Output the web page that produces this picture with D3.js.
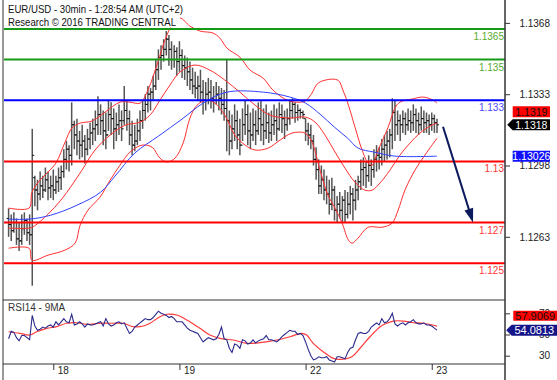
<!DOCTYPE html>
<html><head><meta charset="utf-8">
<script src="https://cdn.jsdelivr.net/npm/d3@7"></script>
<style>html,body{margin:0;padding:0;background:#fff}svg{display:block}text{font-family:"Liberation Sans",Arial,sans-serif}</style>
</head><body><svg id="c" width="557" height="380"></svg>
<script>
// ---------------- DATA ----------------
const dayLabels = ["18","19","22","23"];
const dayIdx = [17,65,113,161];
const opens = [1.1272,1.1269,1.1266,1.1270,1.1262,1.1261,1.1267,1.1271,1.1265,1.1264,
1.1292,1.1286,1.1284,1.1288,1.1286,1.1291,1.1287,1.1288,1.1286,1.1290,
1.1292,1.1295,1.1301,1.1306,1.1303,1.1318,1.1313,1.1310,1.1308,1.1310,
1.1306,1.1311,1.1314,1.1316,1.1318,1.1323,1.1320,1.1315,1.1313,1.1323,
1.1321,1.1316,1.1318,1.1320,1.1320,1.1325,1.1321,1.1313,1.1308,1.1310,
1.1315,1.1320,1.1325,1.1328,1.1333,1.1334,1.1337,1.1345,1.1351,1.1352,
1.1355,1.1360,1.1355,1.1350,1.1354,1.1349,1.1352,1.1347,1.1346,1.1344,
1.1340,1.1337,1.1336,1.1337,1.1334,1.1330,1.1333,1.1334,1.1331,1.1330,
1.1333,1.1331,1.1328,1.1326,1.1320,1.1310,1.1316,1.1320,1.1313,1.1308,
1.1318,1.1323,1.1315,1.1313,1.1318,1.1315,1.1321,1.1318,1.1315,1.1319,
1.1314,1.1318,1.1320,1.1316,1.1323,1.1321,1.1318,1.1321,1.1325,1.1328,
1.1324,1.1325,1.1324,1.1321,1.1315,1.1313,1.1310,1.1301,1.1296,1.1288,
1.1291,1.1286,1.1284,1.1279,1.1286,1.1276,1.1279,1.1276,1.1281,1.1274,
1.1279,1.1284,1.1281,1.1286,1.1290,1.1296,1.1297,1.1293,1.1298,1.1296,
1.1301,1.1303,1.1302,1.1306,1.1308,1.1310,1.1313,1.1324,1.1318,1.1320,
1.1318,1.1321,1.1318,1.1320,1.1319,1.1323,1.1320,1.1318,1.1321,1.1319,
1.1320,1.1318,1.1321,1.1319];
const highs = [1.1277,1.1274,1.1275,1.1272,1.1270,1.1274,1.1275,1.1272,1.1274,1.1316,
1.1293,1.1291,1.1295,1.1293,1.1297,1.1295,1.1293,1.1296,1.1293,1.1297,
1.1298,1.1306,1.1310,1.1308,1.1329,1.1320,1.1321,1.1315,1.1318,1.1313,
1.1316,1.1319,1.1321,1.1325,1.1332,1.1328,1.1325,1.1324,1.1330,1.1329,
1.1326,1.1324,1.1328,1.1325,1.1337,1.1330,1.1325,1.1320,1.1318,1.1321,
1.1325,1.1330,1.1333,1.1337,1.1336,1.1342,1.1350,1.1355,1.1357,1.1360,
1.1364,1.1362,1.1359,1.1357,1.1356,1.1359,1.1355,1.1352,1.1351,1.1349,
1.1346,1.1344,1.1342,1.1345,1.1340,1.1339,1.1341,1.1340,1.1337,1.1339,
1.1337,1.1336,1.1335,1.1350,1.1325,1.1323,1.1328,1.1325,1.1321,1.1326,
1.1330,1.1328,1.1324,1.1326,1.1325,1.1329,1.1330,1.1326,1.1328,1.1324,
1.1325,1.1328,1.1326,1.1329,1.1328,1.1325,1.1326,1.1330,1.1331,1.1329,
1.1328,1.1326,1.1325,1.1321,1.1319,1.1318,1.1313,1.1307,1.1301,1.1298,
1.1296,1.1293,1.1291,1.1292,1.1288,1.1283,1.1285,1.1283,1.1286,1.1285,
1.1288,1.1287,1.1291,1.1293,1.1301,1.1302,1.1300,1.1303,1.1301,1.1306,
1.1308,1.1307,1.1311,1.1313,1.1315,1.1316,1.1331,1.1330,1.1325,1.1323,
1.1325,1.1324,1.1326,1.1325,1.1328,1.1326,1.1324,1.1327,1.1325,1.1324,
1.1323,1.1324,1.1323,1.1321];
const lows = [1.1263,1.1261,1.1265,1.1259,1.1256,1.1259,1.1264,1.1261,1.1259,1.1239,
1.1278,1.1276,1.1281,1.1282,1.1285,1.1281,1.1282,1.1281,1.1284,1.1285,
1.1286,1.1292,1.1296,1.1295,1.1298,1.1306,1.1303,1.1301,1.1302,1.1299,
1.1303,1.1306,1.1308,1.1310,1.1313,1.1313,1.1308,1.1306,1.1315,1.1313,
1.1306,1.1310,1.1313,1.1310,1.1318,1.1315,1.1308,1.1303,1.1305,1.1308,
1.1310,1.1316,1.1320,1.1324,1.1325,1.1330,1.1335,1.1340,1.1345,1.1349,
1.1352,1.1347,1.1345,1.1346,1.1342,1.1344,1.1341,1.1340,1.1337,1.1335,
1.1333,1.1331,1.1330,1.1329,1.1323,1.1325,1.1328,1.1326,1.1324,1.1328,
1.1325,1.1323,1.1320,1.1305,1.1303,1.1306,1.1310,1.1306,1.1303,1.1310,
1.1313,1.1308,1.1306,1.1310,1.1308,1.1313,1.1310,1.1308,1.1311,1.1309,
1.1310,1.1313,1.1310,1.1315,1.1314,1.1311,1.1315,1.1318,1.1321,1.1319,
1.1320,1.1321,1.1321,1.1310,1.1308,1.1306,1.1298,1.1291,1.1284,1.1284,
1.1281,1.1279,1.1274,1.1276,1.1271,1.1270,1.1272,1.1270,1.1270,1.1272,
1.1274,1.1271,1.1276,1.1281,1.1286,1.1288,1.1287,1.1290,1.1288,1.1292,
1.1295,1.1296,1.1298,1.1300,1.1301,1.1302,1.1306,1.1310,1.1313,1.1310,
1.1314,1.1313,1.1315,1.1314,1.1315,1.1314,1.1313,1.1315,1.1314,1.1314,
1.1313,1.1315,1.1314,1.1314];
const closes = [1.1269,1.1266,1.1270,1.1262,1.1261,1.1267,1.1271,1.1265,1.1264,1.1303,
1.1286,1.1284,1.1288,1.1286,1.1291,1.1287,1.1288,1.1286,1.1290,1.1292,
1.1295,1.1301,1.1306,1.1303,1.1318,1.1313,1.1310,1.1308,1.1310,1.1306,
1.1311,1.1314,1.1316,1.1318,1.1323,1.1320,1.1315,1.1313,1.1323,1.1321,
1.1316,1.1318,1.1320,1.1316,1.1325,1.1321,1.1313,1.1308,1.1310,1.1315,
1.1320,1.1325,1.1328,1.1333,1.1334,1.1337,1.1345,1.1351,1.1352,1.1355,
1.1360,1.1355,1.1350,1.1354,1.1349,1.1352,1.1347,1.1346,1.1344,1.1340,
1.1337,1.1336,1.1337,1.1334,1.1330,1.1333,1.1334,1.1331,1.1330,1.1333,
1.1331,1.1328,1.1326,1.1320,1.1310,1.1316,1.1320,1.1313,1.1308,1.1318,
1.1323,1.1315,1.1313,1.1318,1.1315,1.1321,1.1318,1.1315,1.1319,1.1314,
1.1318,1.1320,1.1316,1.1323,1.1321,1.1318,1.1321,1.1325,1.1328,1.1324,
1.1325,1.1324,1.1323,1.1315,1.1313,1.1310,1.1301,1.1296,1.1288,1.1291,
1.1286,1.1284,1.1279,1.1286,1.1276,1.1279,1.1276,1.1281,1.1274,1.1279,
1.1284,1.1281,1.1286,1.1290,1.1296,1.1297,1.1293,1.1298,1.1296,1.1301,
1.1303,1.1302,1.1306,1.1308,1.1310,1.1313,1.1324,1.1318,1.1320,1.1318,
1.1321,1.1318,1.1320,1.1319,1.1323,1.1320,1.1318,1.1321,1.1319,1.1320,
1.1318,1.1321,1.1319,1.1318];

// Bollinger bands (20) and moving average, read at sample bar positions
const upperIdx = [0,7.8,8.9,11.9,15,18,21.5,24.1,27.2,31.7,36.7,42.4,46.2,50,53,56.8,59.5,62.2,65.2,69,72.8,77.8,80.4,83.1,88,91.9,96.8,100.6,105.9,109.7,112.8,115.4,117.4,120.4,125.3,127.2,129.3,131.8,134.5,136.8,138.3,140.6,144.4,147,148.9,153.5,157.7,161.5,163];
const upperVal = [1.12771,1.12771,1.12849,1.12908,1.12948,1.12992,1.13095,1.13164,1.13188,1.13198,1.13242,1.13291,1.13291,1.13286,1.13350,1.13488,1.13596,1.13669,1.13704,1.13664,1.13640,1.13630,1.13605,1.13556,1.13512,1.13448,1.13409,1.13350,1.13301,1.13291,1.13296,1.13335,1.13380,1.13399,1.13399,1.13350,1.13276,1.13168,1.13056,1.12992,1.12982,1.13056,1.13168,1.13262,1.13291,1.13306,1.13316,1.13301,1.13286];
const midIdx = [0,8.1,9.7,15,19.9,24.1,27.9,32.9,38.6,44.3,50,53.8,57.6,61.4,65.2,70.9,76.6,82.3,88,93.8,99.5,107.1,112.8,116.6,120.4,124.2,128,131.8,135.6,138.3,141.3,145.1,148.9,152.7,156.5,160.3,163];
const midVal = [1.12673,1.12673,1.12682,1.12741,1.12810,1.12884,1.12957,1.13056,1.13129,1.13178,1.13193,1.13227,1.13301,1.13375,1.13439,1.13473,1.13448,1.13399,1.13340,1.13276,1.13227,1.13213,1.13218,1.13193,1.13129,1.13046,1.12967,1.12898,1.12859,1.12859,1.12894,1.12957,1.13031,1.13090,1.13139,1.13173,1.13188];
const lowerIdx = [0,7.8,8.9,15,21.5,25.3,27.2,30.2,34.8,38.6,42.4,46.2,50.8,54.6,57.6,60.3,63.3,66.4,69,71.7,75.5,78.5,82.3,86.1,90,93.8,98.7,103.3,107.8,112.8,115.4,118.5,121.5,124.2,126.9,129.3,130.7,132.9,136.8,142.1,145.9,148.2,150.8,154.6,158.4,163];
const lowerVal = [1.12574,1.12574,1.12515,1.12540,1.12565,1.12599,1.12687,1.12761,1.12825,1.12908,1.12982,1.13046,1.13080,1.13070,1.13016,1.12997,1.13016,1.13090,1.13213,1.13276,1.13301,1.13286,1.13227,1.13129,1.13080,1.13056,1.13065,1.13105,1.13139,1.13139,1.13095,1.12957,1.12835,1.12771,1.12697,1.12614,1.12599,1.12623,1.12677,1.12677,1.12697,1.12761,1.12859,1.12957,1.13031,1.13114];
const smaIdx = [0,8,16,26,35,40.5,48,57,66,74,83,97,107,113,118.5,124,129,133,139,147,163];
const smaVal = [1.12717,1.12717,1.12736,1.12785,1.12849,1.12928,1.13041,1.13124,1.13208,1.13286,1.13340,1.13340,1.13316,1.13286,1.13232,1.13168,1.13114,1.13065,1.13046,1.13026,1.13026];

const levels = [1.1365,1.135,1.133,1.13,1.127,1.125];
const levelLabels = ["1.1365","1.135","1.133","1.13","1.127","1.125"];
const levelKind = ["resistance","resistance","pivot","support","support","support"];
const priceTicks = [1.1368,1.1333,1.1298,1.1263];

const rsi = [46,53,52,47,44,49,49,47,45,68,58,54,55,57,56,58,59,57,62,59,
62,65,62,61,69,59,60,62,60,57,60,59,59,60,61,62,58,65,60,58,
59,61,62,60,61,56,51,53,57,59,61,63,65,64,64,66,69,72,70,69,
68,66,67,65,62,62,62,59,56,54,53,52,51,47,43,45,47,46,45,46,
50,57,46,45,37,33,41,40,37,45,44,41,42,45,42,44,45,46,49,45,
45,44,43,45,48,50,52,54,53,53,50,51,49,43,36,30,26,27,29,28,
28,29,26,25,24,29,29,28,27,33,37,38,45,51,52,51,51,53,57,59,
61,59,65,61,62,65,70,60,58,60,61,59,61,62,64,61,60,60,61,59,
59,58,56,54.08];
const rsiMaIdx = [0,4.3,8.1,10.7,14.5,18.3,22.1,25.9,29.7,34.8,39.8,43.6,47.5,51.3,53.8,57.6,60.2,64,67.8,72.8,76.6,80.4,85.5,90.6,95.7,102,107.1,111.5,113.4,115.9,119.7,123.6,126.1,130.6,133.7,137.5,141.4,143.9,146.4,150.2,154,157.8,163];
const rsiMaVal = [52.6,51.1,49.5,52.6,55.8,57.4,60.6,61.1,59.6,60.6,60.6,60.6,57.4,58,60.6,66.8,69.1,68.4,63.7,55.8,49.5,46.4,44.8,41.7,42.3,44.8,47.9,51.1,49.5,41.7,33.8,27.5,26.6,29.1,37,47.9,57.4,60.6,62.7,62.7,61.1,60.6,57.9];
const rsiTicks = [70,50,30];

const lastClose = 1.1318, lastMid = 1.1319, lastSma = 1.13026;
const lastRsi = 54.0813, lastRsiMa = 57.9069;
const arrowFrom = [165.3, 1.1317], arrowTo = [176.7, 1.1270];

const titleLines = ["EUR/USD - 30min - 1:28:54 AM (UTC+2)", "Research \u00a9 2016 TRADING CENTRAL"];
const rsiTitle = "RSI14 - 9MA";

// ---------------- STYLE ----------------
const levelColor = {resistance:"#169a16", pivot:"#0000ff", support:"#ff0000"};
const levelText = {resistance:"#5aab2e", pivot:"#4a4aff", support:"#ff3535"};
const FONT = '"Liberation Sans",Arial,sans-serif';

// ---------------- CHART ----------------
const svg = d3.select("#c");
const x = d3.scaleLinear().domain([0,163]).range([8.6,437]);
const y = d3.scaleLinear().domain([1.1365,1.125]).range([29,263.3]);
const yr = d3.scaleLinear().domain([70,30]).range([313.3,355.7]);

const defs = svg.append("defs");
defs.append("clipPath").attr("id","cm").append("rect").attr("x",4).attr("y",0).attr("width",501).attr("height",299);
defs.append("clipPath").attr("id","cr").append("rect").attr("x",4).attr("y",301).attr("width",501).attr("height",63);

const main = svg.append("g").attr("clip-path","url(#cm)");
const n = closes.length;
const idx = d3.range(n);

// OHLC bars
const bg = main.append("g");
bg.selectAll("line.hl").data(idx).join("line").attr("class","hl")
  .attr("x1",i=>x(i)).attr("x2",i=>x(i)).attr("y1",i=>y(highs[i])).attr("y2",i=>y(lows[i]))
  .attr("stroke","#555").attr("stroke-width",1.5);
bg.selectAll("line.op").data(idx).join("line").attr("class","op")
  .attr("x1",i=>x(i)-2).attr("x2",i=>x(i)).attr("y1",i=>y(opens[i])).attr("y2",i=>y(opens[i]))
  .attr("stroke","#111").attr("stroke-width",1);
bg.selectAll("line.cl").data(idx).join("line").attr("class","cl")
  .attr("x1",i=>x(i)).attr("x2",i=>x(i)+2).attr("y1",i=>y(closes[i])).attr("y2",i=>y(closes[i]))
  .attr("stroke","#111").attr("stroke-width",1);

function smooth(ix, vals, ys){
  return d3.line().x((d,k)=>x(ix[k])).y(d=>ys(d)).curve(d3.curveCatmullRom.alpha(0.5))(vals);
}
[[upperIdx,upperVal],[midIdx,midVal],[lowerIdx,lowerVal]].forEach(([ix,v])=>{
  main.append("path").attr("d",smooth(ix,v,y)).attr("fill","none").attr("stroke","#ff3030").attr("stroke-width",1);
});
main.append("path").attr("d",smooth(smaIdx,smaVal,y)).attr("fill","none").attr("stroke","#3040ff").attr("stroke-width",1);

// levels
levels.forEach((v,k)=>{
  main.append("line").attr("x1",4).attr("x2",505).attr("y1",y(v)).attr("y2",y(v))
    .attr("stroke",levelColor[levelKind[k]]).attr("stroke-width",2);
  svg.append("text").attr("x",504).attr("y",y(v)+11).attr("text-anchor","end")
    .attr("font-size",10).attr("font-family",FONT).attr("fill",levelText[levelKind[k]]).text(levelLabels[k]);
});

// arrow
{
  const x0=x(arrowFrom[0]), y0=y(arrowFrom[1]), x1=x(arrowTo[0]), y1=y(arrowTo[1]);
  const dx=x1-x0, dy=y1-y0, L=Math.hypot(dx,dy), ux=dx/L, uy=dy/L;
  const hl=14, hw=4.5, bx=x1-ux*hl, by=y1-uy*hl;
  svg.append("line").attr("x1",x0).attr("y1",y0).attr("x2",bx+ux*2).attr("y2",by+uy*2)
    .attr("stroke","#0b1a5c").attr("stroke-width",2);
  svg.append("path").attr("d",`M${x1},${y1}L${bx-uy*hw},${by+ux*hw}L${bx+uy*hw},${by-ux*hw}Z`).attr("fill","#0b1a5c");
}

// RSI panel
const rp = svg.append("g").attr("clip-path","url(#cr)");
rp.append("path").attr("d",smooth(rsiMaIdx,rsiMaVal,yr)).attr("fill","none").attr("stroke","#ff3b3b").attr("stroke-width",1.2);
rp.append("path").attr("d",d3.line().x((d,i)=>x(i)).y(d=>yr(d))(rsi)).attr("fill","none").attr("stroke","#2a2a8c").attr("stroke-width",1.1);

// frame
const fr = svg.append("g").attr("stroke","#333");
fr.append("line").attr("x1",3).attr("x2",3).attr("y1",0).attr("y2",380).attr("stroke-width",1);
fr.append("line").attr("x1",505).attr("x2",505).attr("y1",0).attr("y2",380).attr("stroke-width",1.5);
fr.append("line").attr("x1",3).attr("x2",505).attr("y1",300).attr("y2",300).attr("stroke-width",1);
fr.append("line").attr("x1",3).attr("x2",505).attr("y1",364).attr("y2",364).attr("stroke-width",1);

// axes
function styleAxis(g){
  g.select(".domain").remove();
  g.attr("font-family",FONT).attr("font-size",10);
  g.selectAll(".tick line").attr("stroke","#333");
  g.selectAll(".tick text").attr("fill","#222");
}
const ay = svg.append("g").attr("transform","translate(505,0)")
  .call(d3.axisRight(y).tickValues(priceTicks).tickFormat(d3.format(".4f")).tickSize(5));
styleAxis(ay); ay.selectAll(".tick text").attr("x",45).attr("text-anchor","end");
const ar = svg.append("g").attr("transform","translate(505,0)")
  .call(d3.axisRight(yr).tickValues(rsiTicks).tickFormat(d3.format("d")).tickSize(5));
styleAxis(ar); ar.selectAll(".tick text").attr("x",45).attr("text-anchor","end");
const ax = svg.append("g").attr("transform","translate(0,364)")
  .call(d3.axisBottom(x).tickValues(dayIdx).tickFormat((d,k)=>dayLabels[k]).tickSize(6));
styleAxis(ax); ax.selectAll(".tick text").attr("x",4).attr("y",3).attr("text-anchor","start");

// title
svg.append("rect").attr("x",4).attr("y",0).attr("width",176).attr("height",27.5).attr("fill","#fff");
svg.append("text").attr("x",8).attr("y",13).attr("font-size",11).attr("font-family",FONT).attr("fill","#111")
  .attr("textLength",175).attr("lengthAdjust","spacingAndGlyphs").text(titleLines[0]);
svg.append("text").attr("x",8).attr("y",26).attr("font-size",11).attr("font-family",FONT).attr("fill","#111")
  .attr("textLength",168).attr("lengthAdjust","spacingAndGlyphs").text(titleLines[1]);
svg.append("text").attr("x",8).attr("y",310.5).attr("font-size",10).attr("font-family",FONT).attr("fill","#333").text(rsiTitle);

// value boxes
function box(cy, x0, x1, h, fill, txt, tc, fs, arrow){
  const t=cy-h/2, b=cy+h/2;
  const d = arrow ? `M${x0-5.5},${cy}L${x0},${t}L${x1},${t}L${x1},${b}L${x0},${b}Z` : `M${x0},${t}L${x1},${t}L${x1},${b}L${x0},${b}Z`;
  svg.append("path").attr("d",d).attr("fill",fill);
  svg.append("text").attr("x",(x0+x1)/2).attr("y",cy+0.36*fs).attr("text-anchor","middle")
    .attr("font-size",fs).attr("font-family",FONT).attr("fill",tc).text(txt);
}
const cyClose = y(lastClose);
box(cyClose, 512.7, 550, 11, "#000", d3.format(".4f")(lastClose), "#fff", 10.5, true);
box(Math.min(y(lastMid), cyClose-13), 512.7, 550, 11, "#ff0000", d3.format(".4f")(lastMid), "#111", 10.5, false);
box(y(lastSma), 512.7, 550, 11, "#1010ff", d3.format(".5f")(lastSma), "#fff", 10.5, false);
const cyR = yr(lastRsi);
box(cyR, 511.7, 557, 11, "#15158a", d3.format(".4f")(lastRsi), "#fff", 11, true);
box(Math.min(yr(lastRsiMa), cyR-14.5), 513.3, 557, 10, "#ff0000", d3.format(".4f")(lastRsiMa), "#111", 11, false);
</script></body></html>
